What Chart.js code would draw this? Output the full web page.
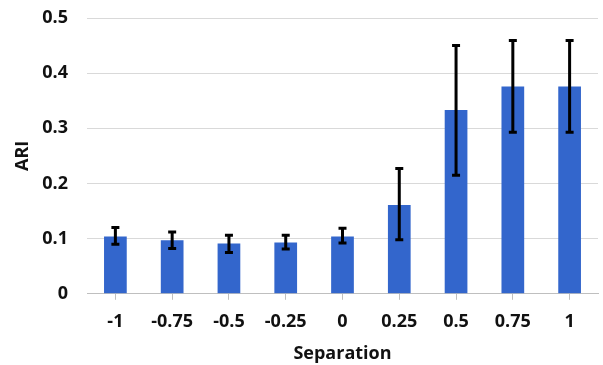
<!DOCTYPE html>
<html>
<head>
<meta charset="utf-8">
<script src="https://cdn.jsdelivr.net/npm/chart.js@4.4.1/dist/chart.umd.min.js"></script>
<style>
html,body{margin:0;padding:0;background:#fff;}
#wrap{width:603px;height:365px;}
</style>
</head>
<body>
<div id="wrap"><canvas id="c" width="603" height="365"></canvas></div>
<script>
const categories = ["-1","-0.75","-0.5","-0.25","0","0.25","0.5","0.75","1"];
const ariMean = [0.104,0.097,0.091,0.093,0.104,0.161,0.333,0.376,0.376];
const errLow  = [0.090,0.082,0.075,0.081,0.092,0.098,0.215,0.293,0.293];
const errHigh = [0.120,0.112,0.106,0.106,0.119,0.227,0.450,0.459,0.459];
const yTicks = [0,0.1,0.2,0.3,0.4,0.5];

const errorBars = {
  id:'errorBars',
  afterDatasetsDraw(chart){
    const ctx = chart.ctx;
    const meta = chart.getDatasetMeta(0);
    const y = chart.scales.y;
    ctx.save();
    ctx.strokeStyle = '#000';
    ctx.lineWidth = 3;
    meta.data.forEach((bar,i)=>{
      const x = bar.x;
      const yl = y.getPixelForValue(errLow[i]);
      const yh = y.getPixelForValue(errHigh[i]);
      ctx.beginPath();
      ctx.moveTo(x,yl); ctx.lineTo(x,yh);
      ctx.moveTo(x-4,yl); ctx.lineTo(x+4,yl);
      ctx.moveTo(x-4,yh); ctx.lineTo(x+4,yh);
      ctx.stroke();
    });
    ctx.restore();
  }
};

const font = {family:"'Open Sans', sans-serif", size:18, weight:'bold'};

new Chart(document.getElementById('c'),{
  type:'bar',
  data:{labels:categories,datasets:[{data:ariMean,backgroundColor:'#3366cc',barPercentage:0.4,categoryPercentage:1.0}]},
  options:{
    responsive:false,
    animation:false,
    devicePixelRatio:1,
    layout:{padding:{left:12,right:5,top:18,bottom:0}},
    plugins:{legend:{display:false},tooltip:{enabled:false}},
    scales:{
      x:{
        grid:{offset:false,drawOnChartArea:false,drawTicks:true,tickLength:6,color:'#bfbfbf'},
        border:{color:'#bfbfbf',width:1},
        ticks:{font:font,color:'#111',padding:11},
        title:{display:true,text:'Separation',font:font,color:'#111',padding:{top:0,bottom:0}}
      },
      y:{
        min:0,max:0.5,
        afterBuildTicks(s){ s.ticks = yTicks.map(v=>({value:v})); },
        afterFit(s){ s.width = 75; s.paddingTop = 0; s.paddingBottom = 0; },
        grid:{drawTicks:false,color:'#d9d9d9'},
        border:{display:false},
        ticks:{font:font,color:'#111',padding:19,callback:v=>String(v)},
        title:{display:true,text:'ARI',font:font,color:'#111',padding:{top:0,bottom:4}}
      }
    }
  },
  plugins:[errorBars]
});
</script>
</body>
</html>
